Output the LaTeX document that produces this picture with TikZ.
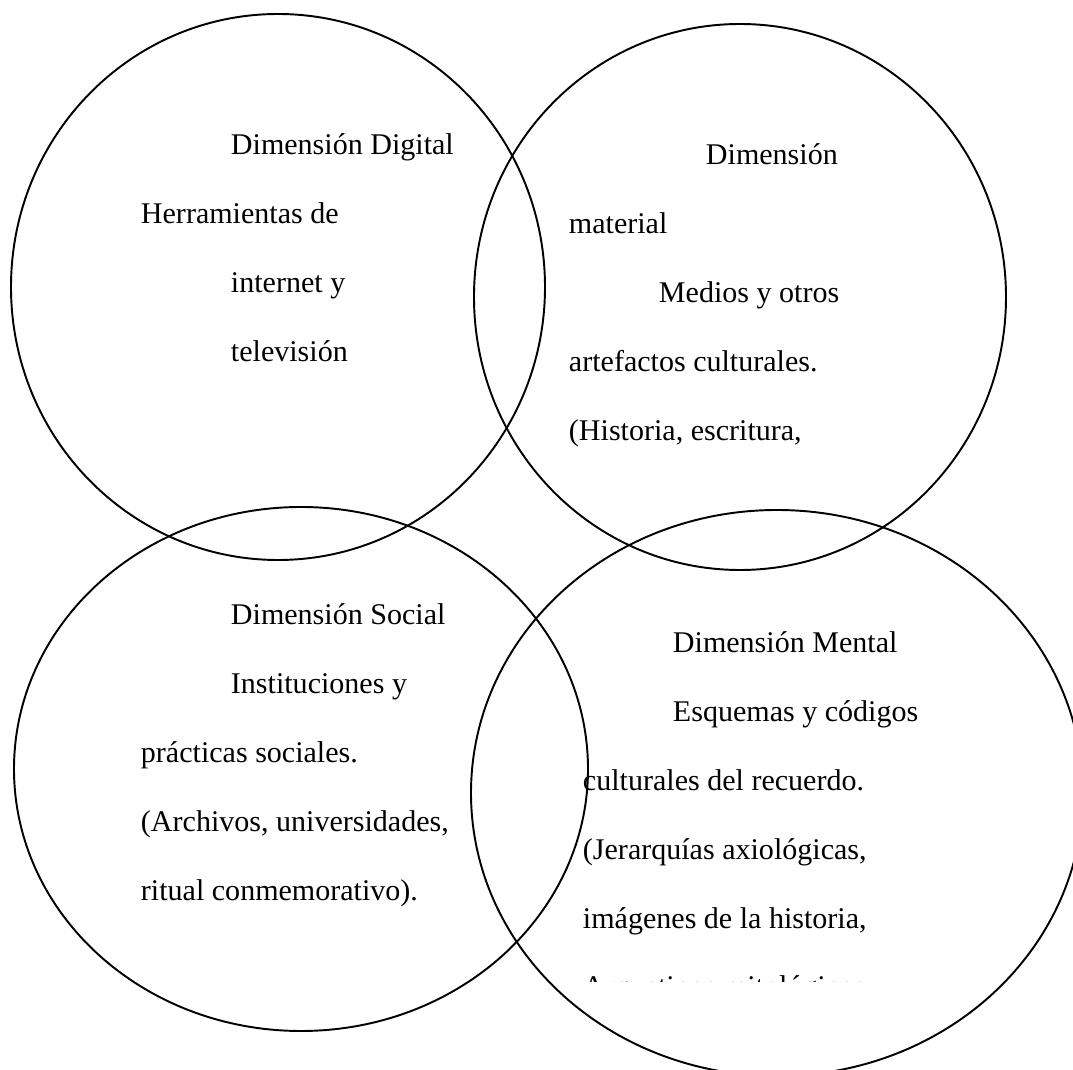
\documentclass[tikz,border=0pt]{standalone}
\usepackage{fontspec}
\setmainfont{Liberation Serif}
\begin{document}
\begin{tikzpicture}[x=0.02cm,y=-0.02cm,line width=1.1pt,
  txt/.style={anchor=base west,inner sep=0pt,font=\fontsize{17.1}{20}\selectfont}]
	\useasboundingbox (0,0) rectangle (1073,1070);
	\clip (0,0) rectangle (1073,1070);

	% the four circles
	\draw (278,287) ellipse (267 and 273);
	\draw (740,297) ellipse (266 and 273);
	\draw (301,769) ellipse (287 and 262);
	\draw (777,793) ellipse (306 and 283);

	% digital
	\node[txt] (dig) at (230,155) {Dimensión Digital};
	\node[txt] (herr) at (140,224) {Herramientas de};
	\node[txt] (inter) at (230,293) {internet y};
	\node[txt] (tele) at (230,362) {televisión};

	% material
	\node[txt] (mat) at (705,165) {Dimensión};
	\node[txt] (mat2) at (568,234) {material};
	\node[txt] (med) at (658,303) {Medios y otros};
	\node[txt] (arte) at (568,372) {artefactos culturales.};
	\node[txt] (hist) at (568,441) {(Historia, escritura,};

	% social
	\node[txt] (soc) at (230,625) {Dimensión Social};
	\node[txt] (inst) at (230,694) {Instituciones y};
	\node[txt] (prac) at (140,763) {prácticas sociales.};
	\node[txt] (arch) at (140,832) {(Archivos, universidades,};
	\node[txt] (rit) at (140,901) {ritual conmemorativo).};

	% mental
	\node[txt] (men) at (672,653) {Dimensión Mental};
	\node[txt] (esq) at (672,722) {Esquemas y códigos};
	\node[txt] (cult) at (582,791) {culturales del recuerdo.};
	\node[txt] (jer) at (582,860) {(Jerarquías axiológicas,};
	\node[txt] (img) at (582,929) {imágenes de la historia,};
	\begin{scope}
		\clip (560,960) rectangle (900,982);
		\node[txt] (arq) at (582,997) {Arquetipos mitológicos,};
	\end{scope}

\end{tikzpicture}
\end{document}
